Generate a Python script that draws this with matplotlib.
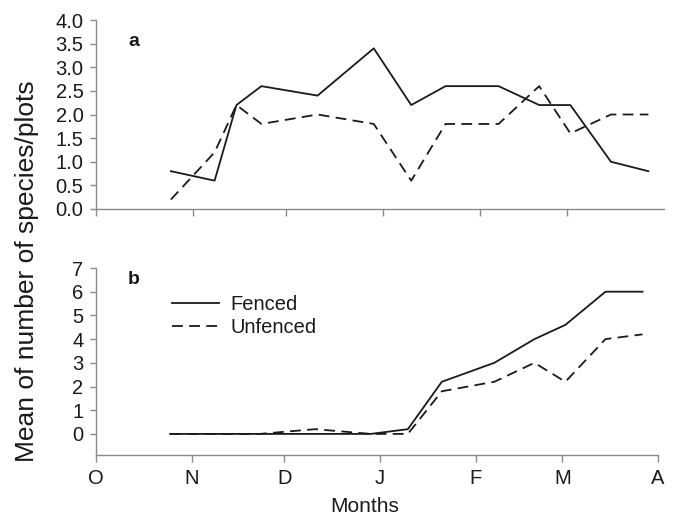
import matplotlib
matplotlib.use("Agg")
import matplotlib.pyplot as plt
import matplotlib.dates as mdates
import datetime as dt

plt.rcParams['font.family'] = ['Liberation Sans', 'DejaVu Sans']

sample_dates = ["2000-10-25", "2000-11-08", "2000-11-15", "2000-11-23", "2000-12-11",
                "2000-12-29", "2001-01-10", "2001-01-21", "2001-02-07", "2001-02-20",
                "2001-03-02", "2001-03-15", "2001-03-27"]
a_fenced = [0.8, 0.6, 2.2, 2.6, 2.4, 3.4, 2.2, 2.6, 2.6, 2.2, 2.2, 1.0, 0.8]
a_unfenced = [0.2, 1.2, 2.2, 1.8, 2.0, 1.8, 0.6, 1.8, 1.8, 2.6, 1.6, 2.0, 2.0]
b_fenced = [0, 0, 0, 0, 0, 0, 0.2, 2.2, 3.0, 4.0, 4.6, 6.0, 6.0]
b_unfenced = [0, 0, 0, 0, 0.2, 0, 0, 1.8, 2.2, 3.0, 2.2, 4.0, 4.2]
month_labels = ["O", "N", "D", "J", "F", "M", "A"]
month_starts = ["2000-10-01", "2000-11-01", "2000-12-01", "2001-01-01",
                "2001-02-01", "2001-03-01", "2001-04-01"]

x = [mdates.date2num(dt.datetime.fromisoformat(d)) for d in sample_dates]
mt = [mdates.date2num(dt.datetime.fromisoformat(d)) for d in month_starts]

W, H = 674, 515
fig = plt.figure(figsize=(W / 100, H / 100), dpi=100)

def box(l, t, r, b):
    return [l / W, 1 - b / H, (r - l) / W, (b - t) / H]

axA = fig.add_axes(box(96, 20, 664, 209))
axB = fig.add_axes(box(96, 268, 658, 455))

col = '#1a1a1a'
spine_col = '#8a8a8a'
lw = 1.3
dash = (6, 3.5)
fs = 14.5

for ax in (axA, axB):
    for s in ('top', 'right'):
        ax.spines[s].set_visible(False)
    for s in ('left', 'bottom'):
        ax.spines[s].set_color(spine_col)
        ax.spines[s].set_linewidth(1.0)
    ax.tick_params(axis='both', colors=spine_col, labelcolor=col, labelsize=fs,
                   length=5, width=1.0, direction='out')
    ax.tick_params(axis='y', length=4, pad=5)
    ax.set_xlim(mt[0], mt[-1])

# Panel a
axA.plot(x, a_fenced, color=col, lw=lw, label='Fenced')
axA.plot(x, a_unfenced, color=col, lw=lw, ls=(0, dash), label='Unfenced')
axA.set_ylim(0, 4.0)
yt = [0.0, 0.5, 1.0, 1.5, 2.0, 2.5, 3.0, 3.5, 4.0]
axA.set_yticks(yt)
axA.set_yticklabels([f"{v:.1f}" for v in yt])
axA.set_xticks(mt[:-1])
axA.set_xticklabels([])
axA.text((134 - 96) / (664 - 96), 1 - (41 - 20) / (209 - 20), 'a', transform=axA.transAxes,
         fontsize=14, fontweight='bold', color=col, ha='center', va='center')

# Panel b
axB.plot(x, b_fenced, color=col, lw=lw, label='Fenced')
axB.plot(x, b_unfenced, color=col, lw=lw, ls=(0, dash), label='Unfenced')
axB.set_ylim(-0.89, 7)
axB.set_yticks(range(0, 8))
axB.set_xticks(mt)
axB.set_xticklabels(month_labels)
axB.tick_params(axis='x', pad=5)
axB.text((134 - 96) / (658 - 96), (279 - 455) / (268 - 455), 'b', transform=axB.transAxes,
         fontsize=14, fontweight='bold', color=col, ha='center', va='center')
leg = axB.legend(loc='upper left', bbox_to_anchor=(0.121, 0.90), frameon=False,
                 fontsize=fs, handlelength=2.35, labelspacing=0.2, handletextpad=0.55,
                 labelcolor=col, borderaxespad=0.0)

fig.text(365 / W, 1 - 506 / H, 'Months', fontsize=15, color=col, ha='center', va='center')
fig.text(27 / W, 1 - 271 / H, 'Mean of number of species/plots', rotation=90,
         fontsize=19, color=col, ha='center', va='center')

fig.savefig('out.png', dpi=100)
